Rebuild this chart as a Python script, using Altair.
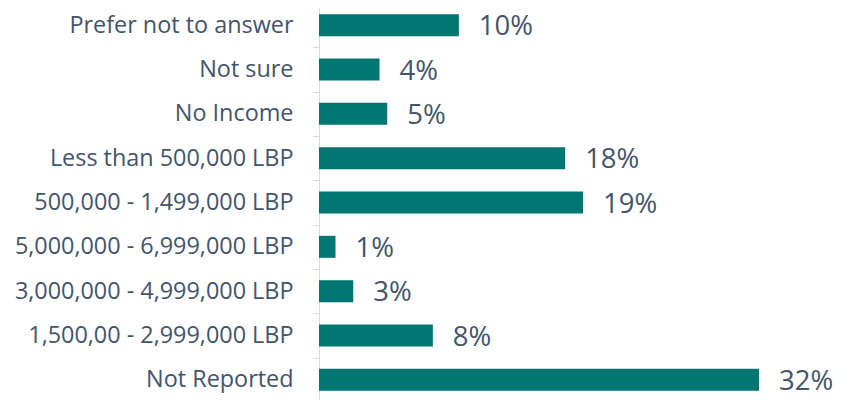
import altair as alt
import pandas as pd

categories = [
    "Prefer not to answer",
    "Not sure",
    "No Income",
    "Less than 500,000 LBP",
    "500,000 - 1,499,000 LBP",
    "5,000,000 - 6,999,000 LBP",
    "3,000,000 - 4,999,000 LBP",
    "1,500,00 - 2,999,000 LBP",
    "Not Reported",
]
values = [10.17, 4.4, 4.96, 17.9, 19.2, 1.2, 2.49, 8.28, 32.0]
value_labels = ["10%", "4%", "5%", "18%", "19%", "1%", "3%", "8%", "32%"]

df = pd.DataFrame({"cat": categories, "val": values, "lab": value_labels})

TEXT = "#44546a"
BAR = "#007672"

y = alt.Y(
    "cat:N",
    sort=None,
    scale=alt.Scale(range=[-5, 394], paddingInner=0, paddingOuter=0),
    axis=alt.Axis(
        title=None,
        labelFont="Open Sans",
        labelFontSize=23.4,
        labelColor=TEXT,
        labelPadding=20,
        tickBand="extent",
        tickSize=6,
        tickColor="#d9d9d9",
        domainColor="#d9d9d9",
        labelLimit=400,
        grid=False,
    ),
)
x = alt.X(
    "val:Q",
    scale=alt.Scale(domain=[0, 37.09], nice=False),
    axis=None,
)

bars = alt.Chart(df).mark_bar(color=BAR, size=22).encode(x=x, y=y)
labels = alt.Chart(df).mark_text(
    align="left", baseline="middle", dx=20, dy=2,
    font="Open Sans", fontSize=27.5, color=TEXT,
).encode(x=x, y=y, text="lab:N")

chart = (
    alt.layer(bars, labels)
    .properties(
        width=510,
        height=392,
        background="white",
        autosize=alt.AutoSizeParams(type="none"),
        padding={"left": 311, "top": 0, "right": 5, "bottom": 0},
    )
    .configure_view(strokeWidth=0, stroke="transparent")
)

chart.save("out.html", embed_options={"renderer": "svg", "actions": False})
